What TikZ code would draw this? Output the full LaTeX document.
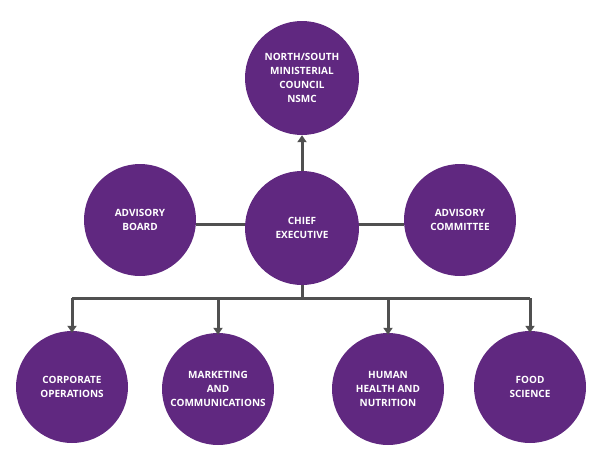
\documentclass[tikz,border=0pt]{standalone}
\usepackage{fontspec}
\setmainfont{Open Sans}
\usepackage{tikz}
\usetikzlibrary{arrows.meta}
\definecolor{orgpurple}{RGB}{96,40,128}
\definecolor{orgline}{RGB}{80,80,80}
\tikzset{
  unit/.style={circle, fill=orgpurple, text=white, minimum size=#1, inner sep=0pt,
    align=center, font=\fontsize{10}{14}\selectfont\bfseries},
  unit/.default=112pt,
  link/.style={draw=orgline, line width=3pt},
  feed/.style={link, -{Triangle[length=7pt,width=9pt]}}
}
\begin{document}
\begin{tikzpicture}[x=1pt,y=-1pt]
\useasboundingbox (0,0) rectangle (600,450);

% top level
\node[unit=114pt] (nsmc) at (302,78) {NORTH/SOUTH\\MINISTERIAL\\COUNCIL\\NSMC};
\node[unit=114pt] (ceo) at (302,228) {CHIEF\\EXECUTIVE};
\node[unit] (board) at (140,220) {ADVISORY\\BOARD};
\node[unit] (committee) at (460,220) {ADVISORY\\COMMITTEE};

% directorates
\node[unit] (corp) at (72,387) {CORPORATE\\OPERATIONS};
\node[unit] (mark) at (218,389) {MARKETING\\AND\\COMMUNICATIONS};
\node[unit] (human) at (388,389) {HUMAN\\HEALTH AND\\NUTRITION};
\node[unit] (food) at (530,387) {FOOD\\SCIENCE};

% connectors
\draw[feed] (ceo.north) -- (nsmc.south);
\draw[link] (board.east |- 0,224) -- (ceo.west |- 0,224);
\draw[link] (ceo.east |- 0,224) -- (committee.west |- 0,224);
\coordinate (bus) at (302,298);
\draw[link] (ceo.south) -- (bus);
\draw[link] (72,298) -- (530,298);
\foreach \d in {corp,mark,human,food}
  \draw[feed] (\d.north |- bus) -- ([yshift=-2pt]\d.north);
\end{tikzpicture}
\end{document}
